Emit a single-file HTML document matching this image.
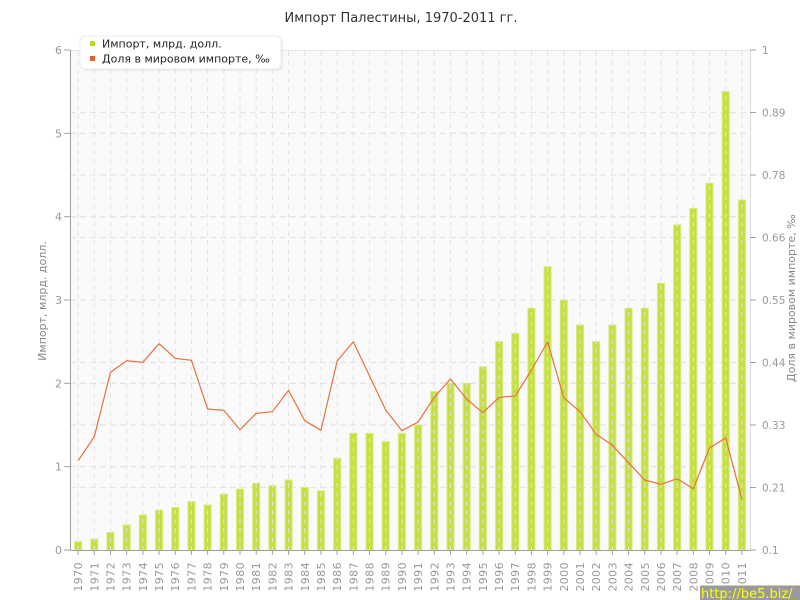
<!DOCTYPE html>
<html>
<head>
<meta charset="utf-8">
<style>
html,body{margin:0;padding:0;background:#fff;}
svg{display:block;}
text{font-family:"DejaVu Sans","Liberation Sans",sans-serif;}
</style>
</head>
<body>
<svg width="800" height="600" viewBox="0 0 800 600" xmlns="http://www.w3.org/2000/svg">
<rect x="0" y="0" width="800" height="600" fill="#ffffff"/>
<!-- title -->
<text x="401" y="22" font-size="13" fill="#333" text-anchor="middle">Импорт Палестины, 1970-2011 гг.</text>
<!-- plot bg -->
<rect x="70" y="50" width="680" height="500" fill="#fafafa"/>
<line x1="70" y1="50.5" x2="750" y2="50.5" stroke="#e6e6e6" stroke-width="1"/>
<!-- horizontal grid -->
<g stroke="#e4e4e4" stroke-width="1.3" stroke-dasharray="6,4">
<line x1="70" y1="112.5" x2="750" y2="112.5"/>
<line x1="70" y1="175" x2="750" y2="175"/>
<line x1="70" y1="237.5" x2="750" y2="237.5"/>
<line x1="70" y1="300" x2="750" y2="300"/>
<line x1="70" y1="362.5" x2="750" y2="362.5"/>
<line x1="70" y1="425" x2="750" y2="425"/>
<line x1="70" y1="487.5" x2="750" y2="487.5"/>
<line x1="70" y1="133.33" x2="750" y2="133.33"/>
<line x1="70" y1="216.67" x2="750" y2="216.67"/>
<line x1="70" y1="383.33" x2="750" y2="383.33"/>
<line x1="70" y1="466.67" x2="750" y2="466.67"/>
</g>
<!-- bars -->
<g fill="#c5df3f" stroke="#d6ea80" stroke-width="1">
<rect x="74.6" y="541.67" width="7" height="8.33"/>
<rect x="90.79" y="539.17" width="7" height="10.83"/>
<rect x="106.98" y="532.5" width="7" height="17.5"/>
<rect x="123.17" y="525" width="7" height="25"/>
<rect x="139.36" y="515" width="7" height="35"/>
<rect x="155.55" y="510" width="7" height="40"/>
<rect x="171.74" y="507.5" width="7" height="42.5"/>
<rect x="187.93" y="501.67" width="7" height="48.33"/>
<rect x="204.12" y="505" width="7" height="45"/>
<rect x="220.31" y="494.17" width="7" height="55.83"/>
<rect x="236.5" y="489.17" width="7" height="60.83"/>
<rect x="252.69" y="483.33" width="7" height="66.67"/>
<rect x="268.88" y="485.83" width="7" height="64.17"/>
<rect x="285.07" y="480" width="7" height="70"/>
<rect x="301.26" y="487.5" width="7" height="62.5"/>
<rect x="317.45" y="490.83" width="7" height="59.17"/>
<rect x="333.64" y="458.33" width="7" height="91.67"/>
<rect x="349.83" y="433.33" width="7" height="116.67"/>
<rect x="366.02" y="433.33" width="7" height="116.67"/>
<rect x="382.21" y="441.67" width="7" height="108.33"/>
<rect x="398.4" y="433.33" width="7" height="116.67"/>
<rect x="414.6" y="425" width="7" height="125"/>
<rect x="430.79" y="391.67" width="7" height="158.33"/>
<rect x="446.98" y="383.33" width="7" height="166.67"/>
<rect x="463.17" y="383.33" width="7" height="166.67"/>
<rect x="479.36" y="366.67" width="7" height="183.33"/>
<rect x="495.55" y="341.67" width="7" height="208.33"/>
<rect x="511.74" y="333.33" width="7" height="216.67"/>
<rect x="527.93" y="308.33" width="7" height="241.67"/>
<rect x="544.12" y="266.67" width="7" height="283.33"/>
<rect x="560.31" y="300" width="7" height="250"/>
<rect x="576.5" y="325" width="7" height="225"/>
<rect x="592.69" y="341.67" width="7" height="208.33"/>
<rect x="608.88" y="325" width="7" height="225"/>
<rect x="625.07" y="308.33" width="7" height="241.67"/>
<rect x="641.26" y="308.33" width="7" height="241.67"/>
<rect x="657.45" y="283.33" width="7" height="266.67"/>
<rect x="673.64" y="225" width="7" height="325"/>
<rect x="689.83" y="208.33" width="7" height="341.67"/>
<rect x="706.02" y="183.33" width="7" height="366.67"/>
<rect x="722.21" y="91.67" width="7" height="458.33"/>
<rect x="738.4" y="200" width="7" height="350"/>
</g>
<!-- vertical grid -->
<g stroke="#e3e3e3" stroke-width="1" stroke-dasharray="5,4">
<line x1="78.1" y1="51" x2="78.1" y2="550"/>
<line x1="94.29" y1="51" x2="94.29" y2="550"/>
<line x1="110.48" y1="51" x2="110.48" y2="550"/>
<line x1="126.67" y1="51" x2="126.67" y2="550"/>
<line x1="142.86" y1="51" x2="142.86" y2="550"/>
<line x1="159.05" y1="51" x2="159.05" y2="550"/>
<line x1="175.24" y1="51" x2="175.24" y2="550"/>
<line x1="191.43" y1="51" x2="191.43" y2="550"/>
<line x1="207.62" y1="51" x2="207.62" y2="550"/>
<line x1="223.81" y1="51" x2="223.81" y2="550"/>
<line x1="240" y1="51" x2="240" y2="550"/>
<line x1="256.19" y1="51" x2="256.19" y2="550"/>
<line x1="272.38" y1="51" x2="272.38" y2="550"/>
<line x1="288.57" y1="51" x2="288.57" y2="550"/>
<line x1="304.76" y1="51" x2="304.76" y2="550"/>
<line x1="320.95" y1="51" x2="320.95" y2="550"/>
<line x1="337.14" y1="51" x2="337.14" y2="550"/>
<line x1="353.33" y1="51" x2="353.33" y2="550"/>
<line x1="369.52" y1="51" x2="369.52" y2="550"/>
<line x1="385.71" y1="51" x2="385.71" y2="550"/>
<line x1="401.9" y1="51" x2="401.9" y2="550"/>
<line x1="418.1" y1="51" x2="418.1" y2="550"/>
<line x1="434.29" y1="51" x2="434.29" y2="550"/>
<line x1="450.48" y1="51" x2="450.48" y2="550"/>
<line x1="466.67" y1="51" x2="466.67" y2="550"/>
<line x1="482.86" y1="51" x2="482.86" y2="550"/>
<line x1="499.05" y1="51" x2="499.05" y2="550"/>
<line x1="515.24" y1="51" x2="515.24" y2="550"/>
<line x1="531.43" y1="51" x2="531.43" y2="550"/>
<line x1="547.62" y1="51" x2="547.62" y2="550"/>
<line x1="563.81" y1="51" x2="563.81" y2="550"/>
<line x1="580" y1="51" x2="580" y2="550"/>
<line x1="596.19" y1="51" x2="596.19" y2="550"/>
<line x1="612.38" y1="51" x2="612.38" y2="550"/>
<line x1="628.57" y1="51" x2="628.57" y2="550"/>
<line x1="644.76" y1="51" x2="644.76" y2="550"/>
<line x1="660.95" y1="51" x2="660.95" y2="550"/>
<line x1="677.14" y1="51" x2="677.14" y2="550"/>
<line x1="693.33" y1="51" x2="693.33" y2="550"/>
<line x1="709.52" y1="51" x2="709.52" y2="550"/>
<line x1="725.71" y1="51" x2="725.71" y2="550"/>
<line x1="741.9" y1="51" x2="741.9" y2="550"/>
</g>
<!-- line series -->
<polyline fill="none" stroke="#e76f42" stroke-width="1.2" stroke-linejoin="round" points="78.1,460.7 94.29,436.7 110.48,372.3 126.67,360.7 142.86,362.3 159.05,343.7 175.24,358.3 191.43,360.3 207.62,409 223.81,410.3 240,429.7 256.19,413.3 272.38,411.7 288.57,390.3 304.76,420.7 320.95,430.3 337.14,361 353.33,341.7 369.52,376 385.71,410 401.9,430.7 418.1,422 434.29,397.3 450.48,379 466.67,399 482.86,412.7 499.05,397.3 515.24,396 531.43,370 547.62,342 563.81,397.7 580,411.7 596.19,434.3 612.38,445.3 628.57,462.7 644.76,480 660.95,484.3 677.14,478.7 693.33,488.7 709.52,448 725.71,438 741.9,499.3"/>
<!-- axes -->
<line x1="70.5" y1="50" x2="70.5" y2="550" stroke="#a0a0a0" stroke-width="1"/>
<line x1="750.5" y1="50" x2="750.5" y2="550" stroke="#dcdcdc" stroke-width="1"/>
<line x1="70" y1="550.5" x2="750" y2="550.5" stroke="#a0a0a0" stroke-width="1"/>
<!-- left ticks -->
<g stroke="#a0a0a0" stroke-width="1">
<line x1="64" y1="50" x2="70" y2="50"/>
<line x1="64" y1="133.33" x2="70" y2="133.33"/>
<line x1="64" y1="216.67" x2="70" y2="216.67"/>
<line x1="64" y1="300" x2="70" y2="300"/>
<line x1="64" y1="383.33" x2="70" y2="383.33"/>
<line x1="64" y1="466.67" x2="70" y2="466.67"/>
<line x1="64" y1="550" x2="70" y2="550"/>
</g>
<g font-size="11" fill="#999" text-anchor="end">
<text x="62" y="54">6</text>
<text x="62" y="137.3">5</text>
<text x="62" y="220.7">4</text>
<text x="62" y="304">3</text>
<text x="62" y="387.3">2</text>
<text x="62" y="470.7">1</text>
<text x="62" y="554">0</text>
</g>
<!-- right ticks -->
<g stroke="#a0a0a0" stroke-width="1">
<line x1="750" y1="50" x2="756" y2="50"/>
<line x1="750" y1="112.5" x2="756" y2="112.5"/>
<line x1="750" y1="175" x2="756" y2="175"/>
<line x1="750" y1="237.5" x2="756" y2="237.5"/>
<line x1="750" y1="300" x2="756" y2="300"/>
<line x1="750" y1="362.5" x2="756" y2="362.5"/>
<line x1="750" y1="425" x2="756" y2="425"/>
<line x1="750" y1="487.5" x2="756" y2="487.5"/>
<line x1="750" y1="550" x2="756" y2="550"/>
</g>
<g font-size="10.5" fill="#999">
<text x="762" y="54">1</text>
<text x="762" y="116.5">0.89</text>
<text x="762" y="179">0.78</text>
<text x="762" y="241.5">0.66</text>
<text x="762" y="304">0.55</text>
<text x="762" y="366.5">0.44</text>
<text x="762" y="429">0.33</text>
<text x="762" y="491.5">0.21</text>
<text x="762" y="554">0.1</text>
</g>
<!-- bottom ticks -->
<g stroke="#a0a0a0" stroke-width="1">
<line x1="78.1" y1="550" x2="78.1" y2="555"/><line x1="94.29" y1="550" x2="94.29" y2="555"/><line x1="110.48" y1="550" x2="110.48" y2="555"/><line x1="126.67" y1="550" x2="126.67" y2="555"/><line x1="142.86" y1="550" x2="142.86" y2="555"/><line x1="159.05" y1="550" x2="159.05" y2="555"/><line x1="175.24" y1="550" x2="175.24" y2="555"/><line x1="191.43" y1="550" x2="191.43" y2="555"/><line x1="207.62" y1="550" x2="207.62" y2="555"/><line x1="223.81" y1="550" x2="223.81" y2="555"/><line x1="240" y1="550" x2="240" y2="555"/><line x1="256.19" y1="550" x2="256.19" y2="555"/><line x1="272.38" y1="550" x2="272.38" y2="555"/><line x1="288.57" y1="550" x2="288.57" y2="555"/><line x1="304.76" y1="550" x2="304.76" y2="555"/><line x1="320.95" y1="550" x2="320.95" y2="555"/><line x1="337.14" y1="550" x2="337.14" y2="555"/><line x1="353.33" y1="550" x2="353.33" y2="555"/><line x1="369.52" y1="550" x2="369.52" y2="555"/><line x1="385.71" y1="550" x2="385.71" y2="555"/><line x1="401.9" y1="550" x2="401.9" y2="555"/><line x1="418.1" y1="550" x2="418.1" y2="555"/><line x1="434.29" y1="550" x2="434.29" y2="555"/><line x1="450.48" y1="550" x2="450.48" y2="555"/><line x1="466.67" y1="550" x2="466.67" y2="555"/><line x1="482.86" y1="550" x2="482.86" y2="555"/><line x1="499.05" y1="550" x2="499.05" y2="555"/><line x1="515.24" y1="550" x2="515.24" y2="555"/><line x1="531.43" y1="550" x2="531.43" y2="555"/><line x1="547.62" y1="550" x2="547.62" y2="555"/><line x1="563.81" y1="550" x2="563.81" y2="555"/><line x1="580" y1="550" x2="580" y2="555"/><line x1="596.19" y1="550" x2="596.19" y2="555"/><line x1="612.38" y1="550" x2="612.38" y2="555"/><line x1="628.57" y1="550" x2="628.57" y2="555"/><line x1="644.76" y1="550" x2="644.76" y2="555"/><line x1="660.95" y1="550" x2="660.95" y2="555"/><line x1="677.14" y1="550" x2="677.14" y2="555"/><line x1="693.33" y1="550" x2="693.33" y2="555"/><line x1="709.52" y1="550" x2="709.52" y2="555"/><line x1="725.71" y1="550" x2="725.71" y2="555"/><line x1="741.9" y1="550" x2="741.9" y2="555"/>
</g>
<!-- year labels -->
<g font-size="11" fill="#999" text-anchor="end" letter-spacing="0.4">
<text x="82.1" y="562" transform="rotate(-90 82.1 562)">1970</text>
<text x="98.29" y="562" transform="rotate(-90 98.29 562)">1971</text>
<text x="114.48" y="562" transform="rotate(-90 114.48 562)">1972</text>
<text x="130.67" y="562" transform="rotate(-90 130.67 562)">1973</text>
<text x="146.86" y="562" transform="rotate(-90 146.86 562)">1974</text>
<text x="163.05" y="562" transform="rotate(-90 163.05 562)">1975</text>
<text x="179.24" y="562" transform="rotate(-90 179.24 562)">1976</text>
<text x="195.43" y="562" transform="rotate(-90 195.43 562)">1977</text>
<text x="211.62" y="562" transform="rotate(-90 211.62 562)">1978</text>
<text x="227.81" y="562" transform="rotate(-90 227.81 562)">1979</text>
<text x="244" y="562" transform="rotate(-90 244 562)">1980</text>
<text x="260.19" y="562" transform="rotate(-90 260.19 562)">1981</text>
<text x="276.38" y="562" transform="rotate(-90 276.38 562)">1982</text>
<text x="292.57" y="562" transform="rotate(-90 292.57 562)">1983</text>
<text x="308.76" y="562" transform="rotate(-90 308.76 562)">1984</text>
<text x="324.95" y="562" transform="rotate(-90 324.95 562)">1985</text>
<text x="341.14" y="562" transform="rotate(-90 341.14 562)">1986</text>
<text x="357.33" y="562" transform="rotate(-90 357.33 562)">1987</text>
<text x="373.52" y="562" transform="rotate(-90 373.52 562)">1988</text>
<text x="389.71" y="562" transform="rotate(-90 389.71 562)">1989</text>
<text x="405.9" y="562" transform="rotate(-90 405.9 562)">1990</text>
<text x="422.1" y="562" transform="rotate(-90 422.1 562)">1991</text>
<text x="438.29" y="562" transform="rotate(-90 438.29 562)">1992</text>
<text x="454.48" y="562" transform="rotate(-90 454.48 562)">1993</text>
<text x="470.67" y="562" transform="rotate(-90 470.67 562)">1994</text>
<text x="486.86" y="562" transform="rotate(-90 486.86 562)">1995</text>
<text x="503.05" y="562" transform="rotate(-90 503.05 562)">1996</text>
<text x="519.24" y="562" transform="rotate(-90 519.24 562)">1997</text>
<text x="535.43" y="562" transform="rotate(-90 535.43 562)">1998</text>
<text x="551.62" y="562" transform="rotate(-90 551.62 562)">1999</text>
<text x="567.81" y="562" transform="rotate(-90 567.81 562)">2000</text>
<text x="584" y="562" transform="rotate(-90 584 562)">2001</text>
<text x="600.19" y="562" transform="rotate(-90 600.19 562)">2002</text>
<text x="616.38" y="562" transform="rotate(-90 616.38 562)">2003</text>
<text x="632.57" y="562" transform="rotate(-90 632.57 562)">2004</text>
<text x="648.76" y="562" transform="rotate(-90 648.76 562)">2005</text>
<text x="664.95" y="562" transform="rotate(-90 664.95 562)">2006</text>
<text x="681.14" y="562" transform="rotate(-90 681.14 562)">2007</text>
<text x="697.33" y="562" transform="rotate(-90 697.33 562)">2008</text>
<text x="713.52" y="562" transform="rotate(-90 713.52 562)">2009</text>
<text x="729.71" y="562" transform="rotate(-90 729.71 562)">2010</text>
<text x="745.9" y="562" transform="rotate(-90 745.9 562)">2011</text>
</g>
<!-- axis titles -->
<text x="46" y="301" font-size="11" fill="#888" text-anchor="middle" transform="rotate(-90 46 301)">Импорт, млрд. долл.</text>
<text x="795" y="298" font-size="11" fill="#888" text-anchor="middle" transform="rotate(-90 795 298)">Доля в мировом импорте, ‰</text>
<!-- legend -->
<rect x="82" y="38" width="201" height="33" rx="5" fill="#000" opacity="0.06"/>
<rect x="80" y="36" width="201" height="33" rx="5" fill="#ffffff" stroke="#ececec" stroke-width="1"/>
<rect x="90" y="41" width="5" height="5" fill="#b8d82c"/>
<rect x="90" y="56" width="5" height="5" fill="#e0622d"/>
<text x="102" y="47.5" font-size="11" fill="#222">Импорт, млрд. долл.</text>
<text x="102" y="62.5" font-size="11" fill="#222">Доля в мировом импорте, ‰</text>
<!-- watermark -->
<rect x="700" y="585.5" width="100" height="14.5" fill="#9a9a9a"/>
<text x="701" y="598" font-size="13" fill="#ffff00">http://be5.biz/</text>
</svg>
</body>
</html>
